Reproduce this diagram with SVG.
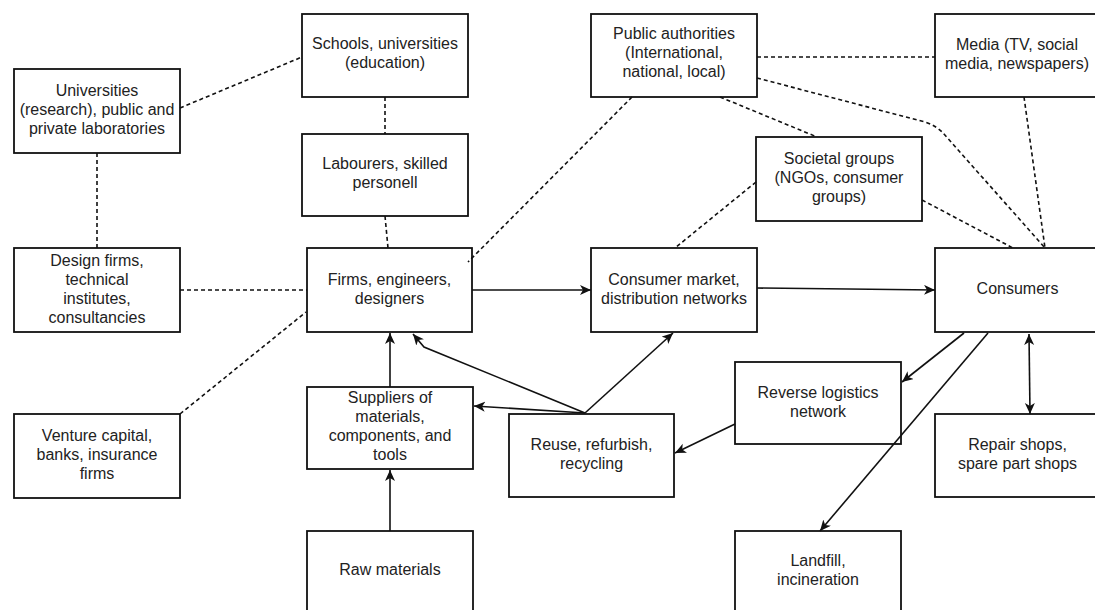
<svg xmlns="http://www.w3.org/2000/svg" width="1095" height="610" viewBox="0 0 1095 610">
  <defs>
    <marker id="arrow" markerUnits="userSpaceOnUse" markerWidth="14" markerHeight="12" refX="11" refY="5" orient="auto-start-reverse">
      <path d="M0,0 L11,5 L0,10 L3,5 Z" fill="#111"/>
    </marker>
    <style>
      .box { fill: #fff; stroke: #111; stroke-width: 1.8; }
      .lbl { font-family: "Liberation Sans", Arial, Helvetica, sans-serif; font-size: 16px; fill: #222; text-anchor: middle; }
      .dash { fill: none; stroke: #111; stroke-width: 1.6; stroke-dasharray: 4 3; }
      .flow { fill: none; stroke: #111; stroke-width: 1.6; marker-end: url(#arrow); }
    </style>
  </defs>
  <rect width="1095" height="610" fill="#fff"/>

  <!-- nodes -->
  <g id="universities-research">
    <rect class="box" x="14" y="69" width="166" height="84"/>
    <text class="lbl" x="97" y="95.5">Universities</text>
    <text class="lbl" x="97" y="114.5">(research), public and</text>
    <text class="lbl" x="97" y="133.5">private laboratories</text>
  </g>
  <g id="schools">
    <rect class="box" x="302" y="14" width="166" height="83"/>
    <text class="lbl" x="385" y="49">Schools, universities</text>
    <text class="lbl" x="385" y="68">(education)</text>
  </g>
  <g id="labourers">
    <rect class="box" x="302" y="134" width="166" height="82"/>
    <text class="lbl" x="385" y="168.5">Labourers, skilled</text>
    <text class="lbl" x="385" y="187.5">personell</text>
  </g>
  <g id="public-authorities">
    <rect class="box" x="591" y="14" width="166" height="83"/>
    <text class="lbl" x="674" y="39">Public authorities</text>
    <text class="lbl" x="674" y="58">(International,</text>
    <text class="lbl" x="674" y="77">national, local)</text>
  </g>
  <g id="media">
    <rect class="box" x="935" y="14" width="166" height="83"/>
    <text class="lbl" x="1017" y="50">Media (TV, social</text>
    <text class="lbl" x="1017" y="69">media, newspapers)</text>
  </g>
  <g id="societal-groups">
    <rect class="box" x="756" y="137" width="166" height="84"/>
    <text class="lbl" x="839" y="163.5">Societal groups</text>
    <text class="lbl" x="839" y="182.5">(NGOs, consumer</text>
    <text class="lbl" x="839" y="201.5">groups)</text>
  </g>
  <g id="design-firms">
    <rect class="box" x="14" y="248" width="166" height="84"/>
    <text class="lbl" x="97" y="266">Design firms,</text>
    <text class="lbl" x="97" y="285">technical</text>
    <text class="lbl" x="97" y="304">institutes,</text>
    <text class="lbl" x="97" y="323">consultancies</text>
  </g>
  <g id="firms">
    <rect class="box" x="307" y="248" width="165" height="84"/>
    <text class="lbl" x="389.5" y="284.5">Firms, engineers,</text>
    <text class="lbl" x="389.5" y="303.5">designers</text>
  </g>
  <g id="consumer-market">
    <rect class="box" x="591" y="248" width="166" height="84"/>
    <text class="lbl" x="674" y="284.5">Consumer market,</text>
    <text class="lbl" x="674" y="303.5">distribution networks</text>
  </g>
  <g id="consumers">
    <rect class="box" x="935" y="248" width="166" height="84"/>
    <text class="lbl" x="1017.5" y="294">Consumers</text>
  </g>
  <g id="venture-capital">
    <rect class="box" x="14" y="414" width="166" height="84"/>
    <text class="lbl" x="97" y="440.5">Venture capital,</text>
    <text class="lbl" x="97" y="459.5">banks, insurance</text>
    <text class="lbl" x="97" y="478.5">firms</text>
  </g>
  <g id="suppliers">
    <rect class="box" x="307" y="387" width="166" height="82"/>
    <text class="lbl" x="390" y="403">Suppliers of</text>
    <text class="lbl" x="390" y="422">materials,</text>
    <text class="lbl" x="390" y="441">components, and</text>
    <text class="lbl" x="390" y="460">tools</text>
  </g>
  <g id="reuse">
    <rect class="box" x="509" y="414" width="165" height="83"/>
    <text class="lbl" x="591.5" y="450">Reuse, refurbish,</text>
    <text class="lbl" x="591.5" y="469">recycling</text>
  </g>
  <g id="reverse-logistics">
    <rect class="box" x="735" y="362" width="166" height="82"/>
    <text class="lbl" x="818" y="397.5">Reverse logistics</text>
    <text class="lbl" x="818" y="416.5">network</text>
  </g>
  <g id="repair-shops">
    <rect class="box" x="935" y="414" width="166" height="83"/>
    <text class="lbl" x="1017.5" y="450">Repair shops,</text>
    <text class="lbl" x="1017.5" y="469">spare part shops</text>
  </g>
  <g id="raw-materials">
    <rect class="box" x="307" y="531" width="166" height="84"/>
    <text class="lbl" x="390" y="575">Raw materials</text>
  </g>
  <g id="landfill">
    <rect class="box" x="735" y="531" width="166" height="84"/>
    <text class="lbl" x="818" y="566">Landfill,</text>
    <text class="lbl" x="818" y="585">incineration</text>
  </g>

  <!-- connectors, drawn over the boxes -->
  <g id="connectors">
    <!-- dashed relations -->
    <line class="dash" x1="180" y1="108" x2="302" y2="57"/>
    <line class="dash" x1="385" y1="97" x2="385" y2="134"/>
    <line class="dash" x1="97" y1="153" x2="97" y2="248"/>
    <line class="dash" x1="180" y1="290" x2="307" y2="290"/>
    <line class="dash" x1="180" y1="414" x2="306" y2="312"/>
    <line class="dash" x1="385" y1="216" x2="388" y2="248"/>
    <line class="dash" x1="632" y1="97" x2="468" y2="262"/>
    <line class="dash" x1="757" y1="57" x2="935" y2="57"/>
    <path class="dash" d="M757,78 L925,122 Q937,126 944,134 L1045,248"/>
    <line class="dash" x1="720" y1="97" x2="817" y2="137"/>
    <line class="dash" x1="922" y1="200" x2="1013" y2="248"/>
    <line class="dash" x1="756" y1="182" x2="675" y2="248"/>
    <line class="dash" x1="1024" y1="97" x2="1045" y2="248"/>

    <!-- material and product flows -->
    <line class="flow" x1="472" y1="290" x2="591" y2="290"/>
    <line class="flow" x1="757" y1="288" x2="935" y2="290"/>
    <line class="flow" x1="390" y1="387" x2="390" y2="333"/>
    <line class="flow" x1="390" y1="531" x2="390" y2="470"/>
    <polyline class="flow" points="585,413 424,347 413,334"/>
    <line class="flow" x1="585" y1="413" x2="673" y2="333"/>
    <line class="flow" x1="585" y1="413" x2="474" y2="406"/>
    <line class="flow" x1="964" y1="333" x2="902" y2="382"/>
    <line class="flow" x1="988" y1="333" x2="820" y2="531"/>
    <line class="flow" x1="735" y1="424" x2="675" y2="453"/>
    <line class="flow" x1="1029" y1="334" x2="1030" y2="414" marker-start="url(#arrow)"/>
  </g>
</svg>
